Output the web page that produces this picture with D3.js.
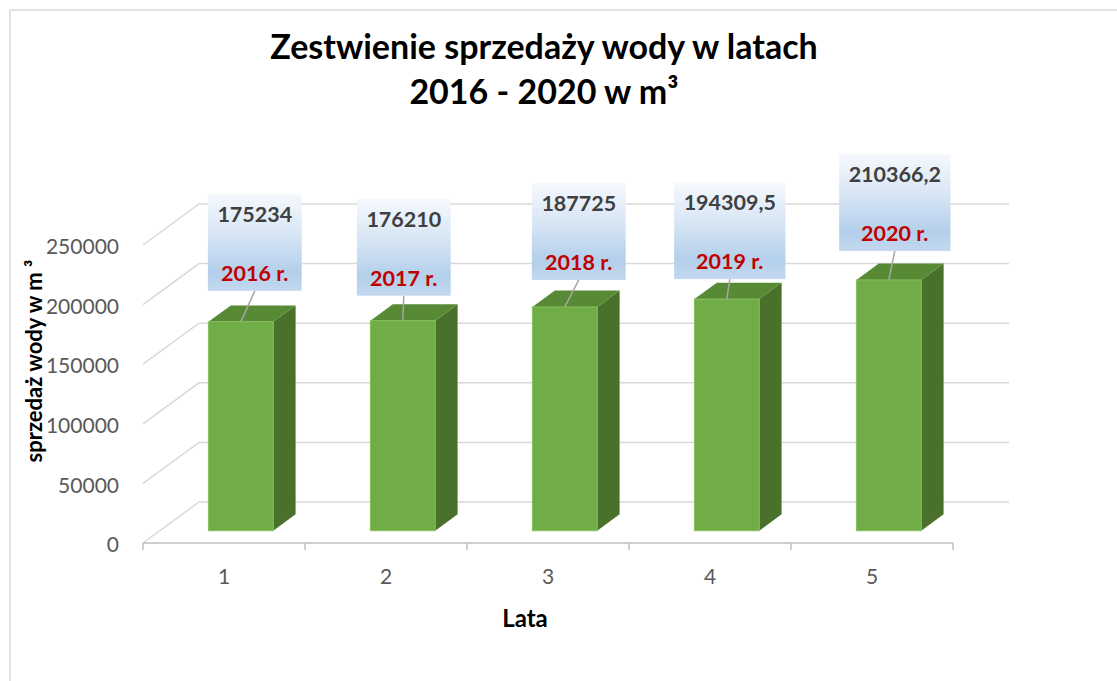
<!DOCTYPE html>
<html>
<head>
<meta charset="utf-8">
<script src="https://cdn.jsdelivr.net/npm/d3@7/dist/d3.min.js"></script>
<style>
  html, body { margin: 0; padding: 0; background: #fff; }
  svg { display: block; }
  text { font-family: Lato, "Open Sans", "Noto Sans", sans-serif; }
</style>
</head>
<body>
<svg id="chart" width="1117" height="681"></svg>
<script>
// ---- data ----
const categories = ["1", "2", "3", "4", "5"];
const values = [175234, 176210, 187725, 194309.5, 210366.2];
const valueLabels = ["175234", "176210", "187725", "194309,5", "210366,2"];
const yearLabels = ["2016 r.", "2017 r.", "2018 r.", "2019 r.", "2020 r."];
const yTicks = [0, 50000, 100000, 150000, 200000, 250000];
const titleLines = ["Zestwienie sprzedaży wody w latach", "2016 - 2020 w m³"];
const yTitle = "sprzedaż wody w m ³";
const xTitle = "Lata";

// ---- layout (not data) ----
const X0 = 143, X1 = 953, Y0 = 543;   // front floor edge
const DX = 56, DY = 41;               // depth projection
const H = 298;                        // pixel height of 250000
const F1 = 0.3, F2 = 0.7;             // bar depth range
// offsets of label box bottom-centre relative to bar front-top centre
const labelShift = [[14, -31], [1, -25], [14, -27], [3, -20], [6, -29]];

const svg = d3.select("#chart");

// border of chart area
svg.append("rect").attr("x", 10).attr("y", 10).attr("width", 1200).attr("height", 800)
  .attr("fill", "none").attr("stroke", "#d9d9d9").attr("stroke-width", 1.5);

const yScale = d3.scaleLinear().domain([0, 250000]).range([0, H]);
const xBand = d3.scaleBand().domain(categories).range([X0, X1]).paddingInner(0.6).paddingOuter(0.3);
const step = xBand.step();

// projection: x on front, value h, depth f
const P = (x, v, f) => [x + f * DX, Y0 - f * DY - yScale(v)];

// defs: gradient for label boxes
const defs = svg.append("defs");
const grad = defs.append("linearGradient").attr("id", "lblGrad")
  .attr("x1", 0).attr("y1", 0).attr("x2", 0).attr("y2", 1);
grad.append("stop").attr("offset", "0%").attr("stop-color", "#f6f9fd");
grad.append("stop").attr("offset", "45%").attr("stop-color", "#d5e4f4");
grad.append("stop").attr("offset", "80%").attr("stop-color", "#b3cfeb");
grad.append("stop").attr("offset", "100%").attr("stop-color", "#c3d8ef");

// gridlines: back wall + left wall diagonals
const grid = svg.append("g").attr("stroke", "#d9d9d9").attr("stroke-width", 1.5).attr("fill", "none");
yTicks.forEach(t => {
  const a = P(X0, t, 0), b = P(X0, t, 1), c = P(X1, t, 1);
  grid.append("path").attr("d", `M${a}L${b}L${c}`);
});

// category axis line with ticks at band boundaries
const axisG = svg.append("g").attr("stroke", "#bfbfbf").attr("stroke-width", 1.5).attr("fill", "none");
axisG.append("line").attr("x1", X0).attr("x2", X1).attr("y1", Y0).attr("y2", Y0);
d3.range(categories.length + 1).forEach(i => {
  const x = X0 + i * step;
  axisG.append("line").attr("x1", x).attr("x2", x).attr("y1", Y0).attr("y2", Y0 + 7);
});

// y axis labels (front plane)
const yAxisScale = d3.scaleLinear().domain([0, 250000]).range([Y0, Y0 - H]);
const yAxis = d3.axisLeft(yAxisScale).tickValues(yTicks).tickSize(0).tickPadding(0)
  .tickFormat(d3.format("d"));
const yAxisG = svg.append("g").attr("transform", "translate(119,2)").call(yAxis);
yAxisG.select(".domain").remove();
yAxisG.selectAll("text").attr("font-family", "Lato, sans-serif").attr("font-size", 21)
  .attr("fill", "#595959");

// x labels
svg.append("g").selectAll("text").data(categories).join("text")
  .attr("x", d => xBand(d) + xBand.bandwidth() / 2).attr("y", 584)
  .attr("text-anchor", "middle").attr("font-size", 21).attr("fill", "#595959")
  .text(d => d);

// bars
const bars = svg.append("g");
categories.forEach((c, i) => {
  const xl = xBand(c), xr = xl + xBand.bandwidth(), v = values[i];
  const g = bars.append("g");
  // side
  g.append("path").attr("fill", "#4a712b")
    .attr("d", `M${P(xr, 0, F1)}L${P(xr, 0, F2)}L${P(xr, v, F2)}L${P(xr, v, F1)}Z`);
  // top
  g.append("path").attr("fill", "#588a36")
    .attr("d", `M${P(xl, v, F1)}L${P(xr, v, F1)}L${P(xr, v, F2)}L${P(xl, v, F2)}Z`);
  // front
  const a = P(xl, v, F1), b = P(xr, 0, F1);
  g.append("rect").attr("x", a[0]).attr("y", a[1]).attr("width", b[0] - a[0]).attr("height", b[1] - a[1])
    .attr("fill", "#70ad47").attr("stroke", "#84bf5c").attr("stroke-width", 1);
});

// data labels with callouts
const labels = svg.append("g");
categories.forEach((c, i) => {
  const v = values[i];
  const top = P(xBand(c) + xBand.bandwidth() / 2, v, F1);
  const bx = top[0] + labelShift[i][0], by = top[1] + labelShift[i][1];
  const g = labels.append("g");
  g.append("line").attr("x1", top[0]).attr("y1", top[1]).attr("x2", bx).attr("y2", by)
    .attr("stroke", "#a6a6a6").attr("stroke-width", 1.5);
  const rect = g.append("rect").attr("fill", "url(#lblGrad)");
  const t1 = g.append("text").attr("x", bx).attr("y", by - 97 + 28).attr("text-anchor", "middle")
    .attr("font-size", 21.5).attr("font-weight", "bold").attr("fill", "#404040").text(valueLabels[i]);
  const t2 = g.append("text").attr("x", bx).attr("y", by - 10).attr("text-anchor", "middle")
    .attr("font-size", 21.5).attr("font-weight", "bold").attr("fill", "#c00000").text(yearLabels[i]);
  const w = Math.max(t1.node().getComputedTextLength(), t2.node().getComputedTextLength()) + 19;
  rect.attr("x", bx - w / 2).attr("y", by - 97).attr("width", w).attr("height", 97);
});

// titles
const title = svg.append("g").attr("font-weight", "bold").attr("fill", "#000").attr("text-anchor", "middle");
titleLines.forEach((l, i) => {
  title.append("text").attr("x", 544).attr("y", 59 + i * 45).attr("font-size", 34).text(l);
});
svg.append("text").attr("transform", "translate(42,361) rotate(-90)").attr("text-anchor", "middle")
  .attr("font-size", 22).attr("font-weight", "bold").attr("fill", "#000").text(yTitle);
svg.append("text").attr("x", 525).attr("y", 627).attr("text-anchor", "middle")
  .attr("font-size", 24).attr("font-weight", "bold").attr("fill", "#000").text(xTitle);
</script>
</body>
</html>
